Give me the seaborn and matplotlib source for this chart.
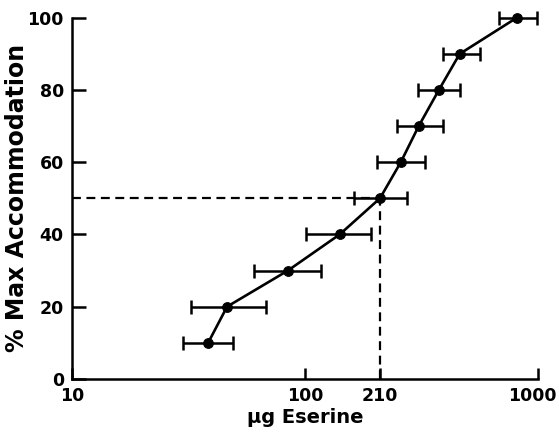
import numpy as np
import pandas as pd
import matplotlib
matplotlib.use("Agg")
import matplotlib.pyplot as plt
import matplotlib.transforms as mtransforms
import seaborn as sns

# values
dose = [38.4, 46.3, 84.5, 141, 210, 258, 308, 376, 462, 812]
dose_low = [29.9, 32.4, 60.4, 101, 162, 204, 248, 305, 391, 680]
dose_high = [49.1, 68, 117, 192, 274, 327, 391, 462, 564, 990]
accommodation = [10, 20, 30, 40, 50, 60, 70, 80, 90, 100]

ed50_dose = 210
ed50_level = 50

x_ticks = [10, 100, 210, 1000]
y_ticks = [0, 20, 40, 60, 80, 100]

df = pd.DataFrame({"dose": dose, "acc": accommodation})

sns.set_style("ticks")
plt.rcParams["font.family"] = ["DejaVu Sans"]
plt.rcParams["font.weight"] = "bold"
plt.rcParams["text.color"] = "black"
plt.rcParams["axes.labelcolor"] = "black"
plt.rcParams["xtick.color"] = "black"
plt.rcParams["ytick.color"] = "black"
plt.rcParams["axes.edgecolor"] = "black"

fig = plt.figure(figsize=(5.59, 4.34), dpi=100)
ax = fig.add_axes([0.129, 0.127, 0.833, 0.832])

# horizontal error bars
xerr = [np.array(dose) - np.array(dose_low), np.array(dose_high) - np.array(dose)]
eb = ax.errorbar(dose, accommodation, xerr=xerr, fmt="none", ecolor="black",
                 elinewidth=1.8, capsize=5, capthick=1.8, zorder=2)
for art in eb.lines[1] + eb.lines[2]:
    art.set_clip_on(False)

sns.lineplot(data=df, x="dose", y="acc", ax=ax, color="black", linewidth=1.9,
             marker="o", markersize=7, markeredgecolor="black", zorder=3)
for ln in ax.lines:
    ln.set_clip_on(False)

# dashed guide lines for ED50
ax.plot([10, ed50_dose], [ed50_level, ed50_level], color="black", lw=1.6,
        ls=(0, (4, 2.5)), zorder=1)
ax.plot([ed50_dose, ed50_dose], [0, ed50_level], color="black", lw=1.6,
        ls=(0, (4, 2.5)), zorder=1)

ax.set_xscale("log")
ax.set_xlim(10, 1000)
ax.set_ylim(0, 100)
ax.set_xticks(x_ticks)
ax.set_xticklabels([str(t) for t in x_ticks])
ax.xaxis.set_minor_locator(matplotlib.ticker.NullLocator())
ax.set_yticks(y_ticks)

ax.tick_params(axis="both", direction="in", width=1.8, labelsize=12.5)
ax.tick_params(axis="y", length=10, pad=6)
ax.tick_params(axis="x", length=8, pad=6)

# nudge the last x label so it stays inside the figure
last = ax.get_xticklabels()[-1]
last.set_transform(last.get_transform() +
                   mtransforms.ScaledTranslation(-4 / 72, 0, fig.dpi_scale_trans))

for side in ["left", "bottom"]:
    ax.spines[side].set_linewidth(1.8)
sns.despine(ax=ax)

ax.set_xlabel("\u03bcg Eserine", fontsize=14, fontweight="bold", labelpad=2)
ax.set_ylabel("% Max Accommodation", fontsize=17, fontweight="bold", labelpad=-1)

fig.savefig("out.png", dpi=100)
